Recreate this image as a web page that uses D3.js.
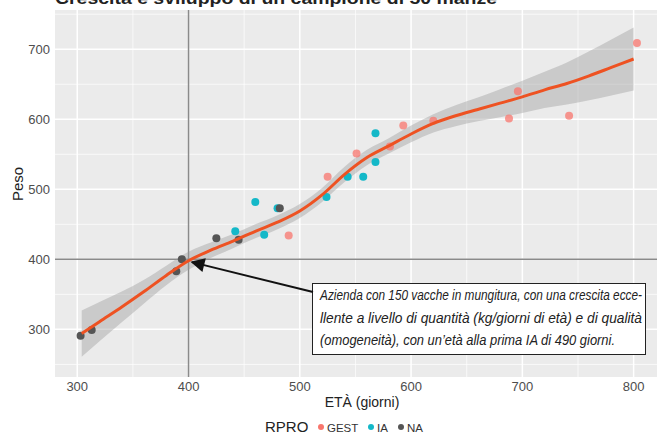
<!DOCTYPE html>
<html>
<head>
<meta charset="utf-8">
<script src="https://cdn.jsdelivr.net/npm/d3@7"></script>
<style>
  body { margin: 0; background: #fff; }
  text { font-family: "Liberation Sans", Arial, sans-serif; }
</style>
</head>
<body>
<svg width="660" height="434"></svg>
<script>
// points: age (days), weight (kg), group
const gestAge = [490, 525, 551, 581, 593, 620, 688, 696, 742, 803]
const gestPeso = [434, 518, 551, 561, 591, 598, 601, 640, 605, 709]
const iaAge = [442, 460, 468, 480, 524, 543, 557, 568, 568]
const iaPeso = [440, 482, 435, 473, 489, 518, 518, 539, 580]
const naAge = [303, 313, 389, 394, 425, 445, 482]
const naPeso = [291, 299, 383, 400, 430, 428, 473]

// loess fit, with half width of the grey band
const fitAge = [304, 320, 340, 360, 380, 400, 420, 440, 460, 480, 500, 520, 540, 560, 580, 600, 620, 640, 660, 680, 700, 720, 740, 760, 780, 800]
const fitPeso = [294, 311, 332, 354, 377, 398, 413, 426, 440, 453, 469, 492, 521, 545, 562, 579, 594, 605, 614, 623, 632, 642, 651, 662, 674, 686]
const fitSe = [33, 28, 22, 17, 14, 13, 11, 10, 10, 10, 10, 10, 11, 11, 11, 12, 13, 15, 17, 20, 23, 26, 30, 35, 40, 45]

const xTicks = [300, 400, 500, 600, 700, 800]
const yTicks = [300, 400, 500, 600, 700]
const xMinor = [350, 450, 550, 650, 750]
const yMinor = [250, 350, 450, 550, 650, 750]

const svg = d3.select('svg')
const pLeft = 55, pRight = 657, pTop = 10, pBottom = 377

const x = d3.scaleLinear().domain([280, 821]).range([pLeft, pRight])
const y = d3.scaleLinear().domain([232, 756]).range([pBottom, pTop])

// title (cut at the top in the original)
svg.append('text')
    .attr('x', 55).attr('y', 4)
    .attr('font-size', 17).attr('font-weight', 'bold')
    .attr('fill', '#222')
    .attr('textLength', 442).attr('lengthAdjust', 'spacingAndGlyphs')
    .text('Crescita e sviluppo di un campione di 50 manze')

svg.append('rect')
    .attr('x', pLeft).attr('y', pTop)
    .attr('width', pRight - pLeft).attr('height', pBottom - pTop)
    .attr('fill', '#EBEBEB')

const grid = svg.append('g')
grid.selectAll('.xmin').data(xMinor).join('line')
    .attr('x1', d => x(d)).attr('x2', d => x(d))
    .attr('y1', pTop).attr('y2', pBottom)
    .attr('stroke', '#fff').attr('stroke-width', 0.7)
grid.selectAll('.ymin').data(yMinor).join('line')
    .attr('y1', d => y(d)).attr('y2', d => y(d))
    .attr('x1', pLeft).attr('x2', pRight)
    .attr('stroke', '#fff').attr('stroke-width', 0.7)
grid.selectAll('.xmaj').data(xTicks).join('line')
    .attr('x1', d => x(d)).attr('x2', d => x(d))
    .attr('y1', pTop).attr('y2', pBottom)
    .attr('stroke', '#fff').attr('stroke-width', 1.5)
grid.selectAll('.ymaj').data(yTicks).join('line')
    .attr('y1', d => y(d)).attr('y2', d => y(d))
    .attr('x1', pLeft).attr('x2', pRight)
    .attr('stroke', '#fff').attr('stroke-width', 1.5)

// reference lines at 400
svg.append('line')
    .attr('x1', x(400)).attr('x2', x(400)).attr('y1', pTop).attr('y2', pBottom)
    .attr('stroke', '#8a8a8a').attr('stroke-width', 1.5)
svg.append('line')
    .attr('x1', pLeft).attr('x2', pRight).attr('y1', y(400)).attr('y2', y(400))
    .attr('stroke', '#8a8a8a').attr('stroke-width', 1.5)

const fit = fitAge.map((a, i) => ({age: a, peso: fitPeso[i], se: fitSe[i]}))

svg.append('path')
    .datum(fit)
    .attr('d', d3.area()
        .x(d => x(d.age))
        .y0(d => y(d.peso - d.se))
        .y1(d => y(d.peso + d.se))
        .curve(d3.curveMonotoneX))
    .attr('fill', '#999').attr('fill-opacity', 0.4)

// points
const pts = []
gestAge.forEach((a, i) => pts.push({age: a, peso: gestPeso[i], g: 'GEST'}))
iaAge.forEach((a, i) => pts.push({age: a, peso: iaPeso[i], g: 'IA'}))
naAge.forEach((a, i) => pts.push({age: a, peso: naPeso[i], g: 'NA'}))
const color = {GEST: '#F8766D', IA: '#14B8C8', NA: '#555555'}

svg.selectAll('.pt').data(pts).join('circle')
    .attr('cx', d => x(d.age)).attr('cy', d => y(d.peso))
    .attr('r', 4)
    .attr('fill', d => color[d.g])
    .attr('fill-opacity', d => d.g === 'GEST' ? 0.75 : 1)

svg.append('path')
    .datum(fit)
    .attr('d', d3.line().x(d => x(d.age)).y(d => y(d.peso)).curve(d3.curveMonotoneX))
    .attr('fill', 'none')
    .attr('stroke', '#EE5222').attr('stroke-width', 3)

// axes labels
svg.selectAll('.xt').data(xTicks).join('text')
    .attr('x', d => x(d)).attr('y', 391)
    .attr('text-anchor', 'middle').attr('font-size', 13).attr('fill', '#4D4D4D')
    .text(d => d)
svg.selectAll('.yt').data(yTicks).join('text')
    .attr('x', 50).attr('y', d => y(d) + 4.5)
    .attr('text-anchor', 'end').attr('font-size', 13).attr('fill', '#4D4D4D')
    .text(d => d)

svg.append('text')
    .attr('x', 362).attr('y', 407)
    .attr('text-anchor', 'middle').attr('font-size', 14).attr('fill', '#222')
    .text('ETÀ (giorni)')
svg.append('text')
    .attr('transform', 'translate(23, 184) rotate(-90)')
    .attr('text-anchor', 'middle').attr('font-size', 15).attr('fill', '#222')
    .text('Peso')

// legend
const lg = svg.append('g')
lg.append('text')
    .attr('x', 265).attr('y', 432)
    .attr('font-size', 15).attr('fill', '#222')
    .text('RPRO')
const legItems = [
  {g: 'GEST', cx: 321, tx: 327},
  {g: 'IA', cx: 371, tx: 377},
  {g: 'NA', cx: 401, tx: 407}
]
lg.selectAll('circle').data(legItems).join('circle')
    .attr('cx', d => d.cx).attr('cy', 427)
    .attr('r', 3)
    .attr('fill', d => color[d.g])
lg.selectAll('.lt').data(legItems).join('text')
    .attr('x', d => d.tx).attr('y', 432)
    .attr('font-size', 11.5).attr('fill', '#333')
    .text(d => d.g)

// annotation box with arrow
const note = svg.append('g')
note.append('rect')
    .attr('x', 312.5).attr('y', 283.5)
    .attr('width', 333).attr('height', 71)
    .attr('fill', '#fff').attr('stroke', '#222').attr('stroke-width', 1)
const noteLines = [
  'Azienda con 150 vacche in mungitura, con una crescita ecce-',
  'llente a livello di quantità (kg/giorni di età) e di qualità',
  '(omogeneità), con un’età alla prima IA di 490 giorni.'
]
const noteW = [322, 322, 295]
const squeeze = 0.8
note.selectAll('text').data(noteLines).join('text')
    .attr('transform', (d, i) => `translate(320, ${300 + i * 22.5}) scale(${squeeze}, 1)`)
    .attr('font-size', 14).attr('font-style', 'italic').attr('fill', '#222')
    .attr('textLength', (d, i) => noteW[i] / squeeze).attr('lengthAdjust', 'spacingAndGlyphs')
    .text(d => d)

svg.append('defs').append('marker')
    .attr('id', 'arr').attr('viewBox', '0 0 10 10')
    .attr('refX', 9).attr('refY', 5)
    .attr('markerWidth', 11).attr('markerHeight', 7)
    .attr('markerUnits', 'strokeWidth')
    .attr('orient', 'auto')
  .append('path').attr('d', 'M0,0 L10,5 L0,10 z').attr('fill', '#111')
svg.append('line')
    .attr('x1', 313).attr('y1', 292)
    .attr('x2', x(403)).attr('y2', y(396))
    .attr('stroke', '#111').attr('stroke-width', 2)
    .attr('marker-end', 'url(#arr)')
</script>
</body>
</html>
